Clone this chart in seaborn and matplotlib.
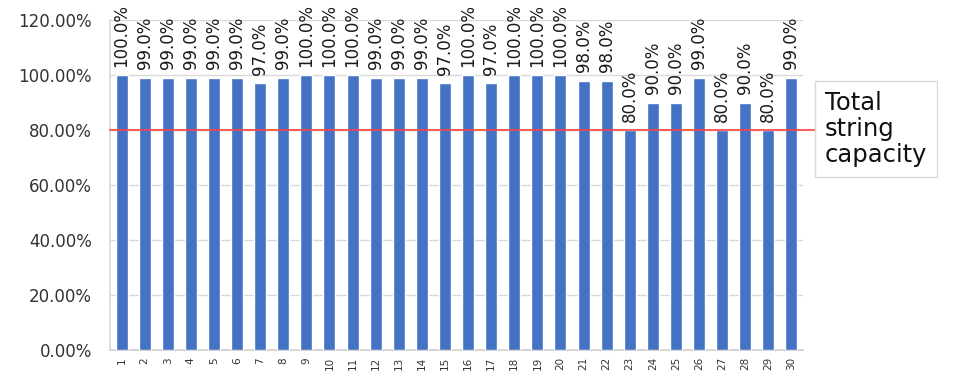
import numpy as np
import pandas as pd
import seaborn as sns
import matplotlib
matplotlib.use("Agg")
import matplotlib.pyplot as plt
from matplotlib.ticker import PercentFormatter

# string numbers and their capacity in percent
strings = [str(i) for i in range(1, 31)]
capacity = [100, 99, 99, 99, 99, 99, 97, 99, 100, 100,
            100, 99, 99, 99, 97, 100, 97, 100, 100, 100,
            98, 98, 80, 90, 90, 99, 80, 90, 80, 99]
total_capacity = 80
legend_label = "Total\nstring\ncapacity"

sns.set_theme(style="white")
plt.rcParams['font.family'] = ['DejaVu Sans']

df = pd.DataFrame({"string": strings, "capacity": capacity})

fig = plt.figure(figsize=(9.57, 3.85), dpi=100)
ax = fig.add_axes([0.115, 0.091, 0.724, 0.857])

sns.barplot(data=df, x="string", y="capacity", color="#4472C4",
            saturation=1, width=0.52, ax=ax, zorder=3)

# labels above bars
for c in ax.containers:
    lbls = ax.bar_label(c, labels=["{:.1f}%".format(v) for v in capacity],
                        rotation=90, padding=6, fontsize=12, color="#1a1a1a")
    for t in lbls:
        t.set_clip_on(False)

# red line for total string capacity
ax.axhline(total_capacity, xmin=0, xmax=1.017, color="#FF4040", lw=1.4,
           alpha=0.85, clip_on=False, zorder=4)

ax.set_ylim(0, 120)
ax.set_yticks(np.arange(0, 121, 20))
ax.yaxis.set_major_formatter(PercentFormatter(100, decimals=2))
ax.set_xlim(-0.5, len(strings) - 0.5)
ax.grid(axis="y", color="#D9D9D9", lw=1, zorder=0)
ax.set_xlabel("")
ax.set_ylabel("")

for s in ["top", "right"]:
    ax.spines[s].set_visible(False)
ax.spines["left"].set_color("#D9D9D9")
ax.spines["bottom"].set_color("#D0D0D0")

ax.tick_params(axis="x", labelsize=7.5, rotation=90, colors="#333333", length=0, pad=5)
ax.yaxis.set_tick_params(labelsize=12, labelcolor="#333333", length=0, pad=13)

fig.text(0.862, 0.665, legend_label, fontsize=17.5, color="#111111",
         va="center", ha="left", linespacing=1.1,
         bbox=dict(boxstyle="square,pad=0.4", fc="white", ec="#D9D9D9", lw=1))

fig.savefig("out.png", dpi=100)
